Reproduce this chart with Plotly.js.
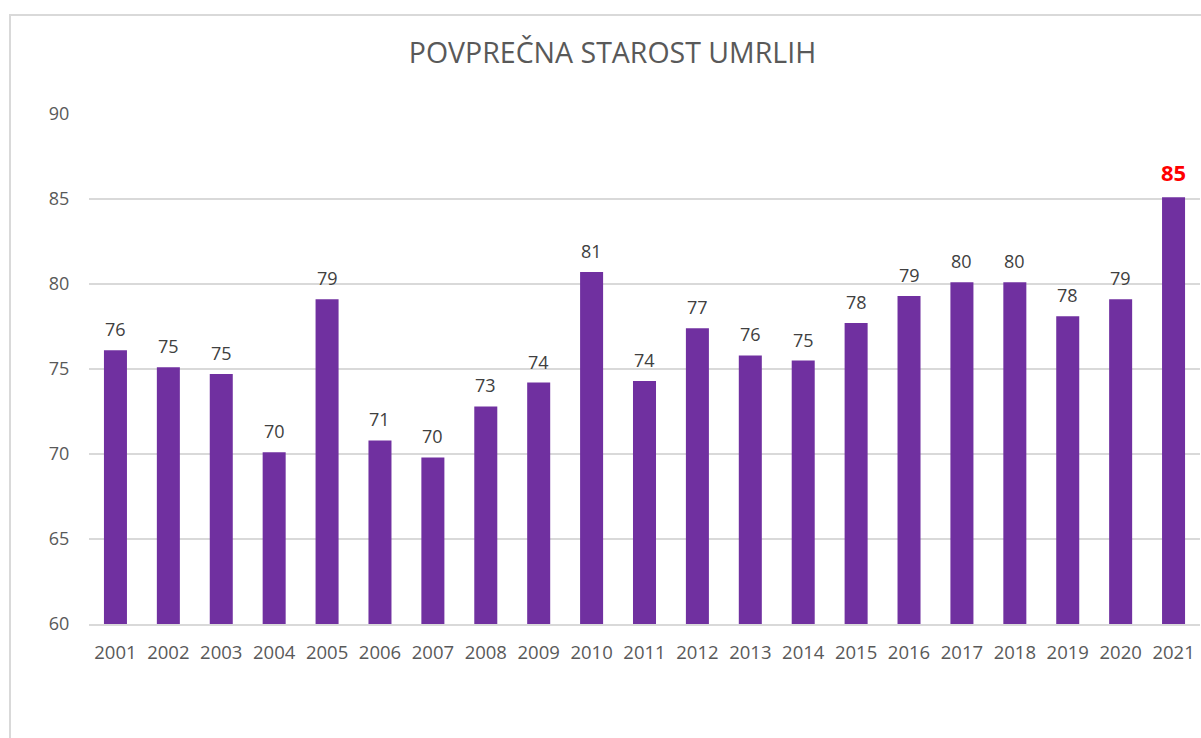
<!DOCTYPE html>
<html>
<head>
<meta charset="utf-8">
<script src="https://cdn.plot.ly/plotly-3.0.1.min.js"></script>
<style>
  html, body { margin: 0; padding: 0; background: #fff; overflow: hidden; }
  #wrap { position: relative; width: 1201px; height: 738px; }
  #frame { position: absolute; left: 9px; top: 14px; width: 1300px; height: 800px;
           border: 2px solid #d9d9d9; box-sizing: border-box; pointer-events: none; }
  #chart { position: absolute; left: 0; top: 0; width: 1201px; height: 738px; }
</style>
</head>
<body>
<div id="wrap">
  <div id="chart"></div>
  <div id="frame"></div>
</div>
<script>
const years = ['2001','2002','2003','2004','2005','2006','2007','2008','2009','2010','2011',
               '2012','2013','2014','2015','2016','2017','2018','2019','2020','2021'];
const ages = [76.1, 75.1, 74.7, 70.1, 79.1, 70.8, 69.8, 72.8, 74.2, 80.7, 74.3,
              77.4, 75.8, 75.5, 77.7, 79.3, 80.1, 80.1, 78.1, 79.1, 85.1];
const labels = ['76','75','75','70','79','71','70','73','74','81','74',
                '77','76','75','78','79','80','80','78','79','85'];
const yTicks = [60, 65, 70, 75, 80, 85, 90];

const FONT = 'Open Sans, Noto Sans, sans-serif';
const last = years.length - 1;

// on a category axis, annotation x is the category's serial index
const annotations = years.map((yr, i) => {
  const hi = i === last;
  return {
    x: i, y: ages[i], xref: 'x', yref: 'y',
    text: hi ? '<b>' + labels[i] + '</b>' : labels[i],
    showarrow: false, yanchor: 'bottom', xanchor: 'center',
    yshift: hi ? 8 : 7,
    font: { family: FONT, size: hi ? 22 : 18, color: hi ? '#ff0000' : '#404040' }
  };
});

const trace = {
  type: 'bar', x: years, y: ages,
  marker: { color: '#7030a0' },
  hoverinfo: 'x+y'
};

const layout = {
  width: 1201, height: 738,
  margin: { l: 89, r: 1, t: 114, b: 114 },
  paper_bgcolor: 'rgba(0,0,0,0)', plot_bgcolor: 'rgba(0,0,0,0)',
  bargap: 0.565,
  showlegend: false,
  title: { text: 'POVPREČNA STAROST UMRLIH', x: 0.51, xanchor: 'center', y: 0.928, yanchor: 'middle',
           font: { family: FONT, size: 28.5, color: '#595959' } },
  xaxis: {
    type: 'category', categoryorder: 'array', categoryarray: years,
    showline: true, linecolor: '#d9d9d9', linewidth: 1.5,
    showgrid: false, ticks: 'outside', ticklen: 11, tickcolor: 'rgba(0,0,0,0)',
    tickangle: 0,
    tickfont: { family: FONT, size: 18.5, color: '#595959' }, fixedrange: true
  },
  yaxis: {
    range: [60, 90], tickvals: yTicks, ticktext: yTicks.map(String),
    showgrid: true, gridcolor: '#d9d9d9', gridwidth: 1.5, zeroline: false,
    ticks: 'outside', ticklen: 15, tickcolor: 'rgba(0,0,0,0)',
    tickfont: { family: FONT, size: 18, color: '#595959' }, fixedrange: true
  },
  annotations: annotations
};

Plotly.newPlot('chart', [trace], layout, { displayModeBar: false, staticPlot: true });
</script>
</body>
</html>
